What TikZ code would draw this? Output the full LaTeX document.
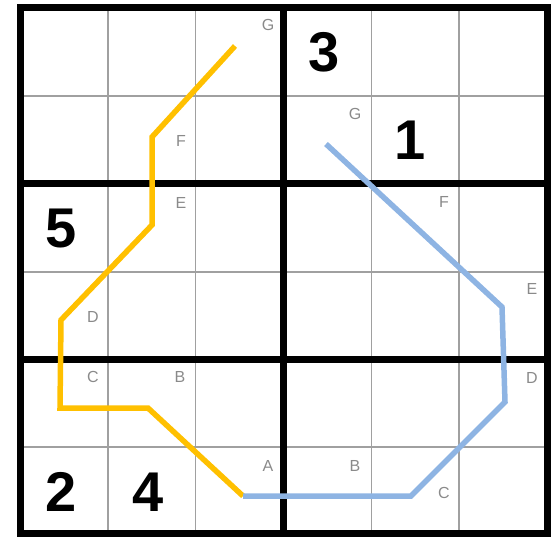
\documentclass[tikz,border=0pt]{standalone}
\usepackage{fontspec}
\setmainfont{Liberation Sans}
\definecolor{gridgray}{HTML}{A0A0A0}
\definecolor{pathyellow}{HTML}{FFC000}
\definecolor{pathblue}{HTML}{8EB4E3}
\definecolor{lblgray}{HTML}{8A8A8A}
\begin{document}
\begin{tikzpicture}[x=1pt,y=-1pt,
  thingrid/.style={draw=gridgray, line width=1.5pt},
  thickgrid/.style={draw=black, line width=7pt},
  route/.style={line width=5.5pt, line join=miter},
  lbl/.style={text=lblgray, font=\fontsize{16}{16}\selectfont, inner sep=0pt},
  digit/.style={text=black, font=\fontsize{56}{56}\selectfont\bfseries, inner sep=0pt}]
\useasboundingbox (0,0) rectangle (557,536);
% thin lines
\foreach \x in {107.8,195.7,371.3,459.2} \draw[thingrid] (\x,7) -- (\x,533);
\foreach \y in {96,447} \draw[thingrid] (20,\y) -- (547,\y);
\draw[thingrid] (20,272) -- (547,272);
% thick lines
\draw[thickgrid] (283.5,7) -- (283.5,533);
\draw[thickgrid] (20,183) -- (547,183);
\draw[thickgrid] (20,359) -- (547,359);
\draw[thickgrid, line join=miter] (20,7) rectangle (547,533);
% digits
\node[digit] (d3) at (324,52) {3};
\node[digit] (d1) at (410,140) {1};
\node[digit] (d5) at (61,229) {5};
\node[digit] (d2) at (61,492) {2};
\node[digit] (d4) at (148,492) {4};
% route coordinates
\coordinate (yG) at (235,46);
\coordinate (yF) at (152,137);
\coordinate (yE) at (152,225);
\coordinate (yD) at (61,320);
\coordinate (yC) at (60,408);
\coordinate (yB) at (148,408);
\coordinate (A) at (243,496);
\coordinate (bB) at (411,496);
\coordinate (bC) at (505,402);
\coordinate (bD) at (502,307);
\coordinate (bG) at (326,144);
\draw[route, draw=pathyellow] (yG) -- (yF) -- (yE) -- (yD) -- (yC) -- (yB) -- (A);
\draw[route, draw=pathblue] (A) -- (bB) -- (bC) -- (bD) -- (bG);
% labels
\node[lbl] (lyG) at (268,25) {G};
\node[lbl] (lyF) at (181,141) {F};
\node[lbl] (lyE) at (181,203) {E};
\node[lbl] (lyD) at (93,317) {D};
\node[lbl] (lyC) at (93,377) {C};
\node[lbl] (lyB) at (180,377) {B};
\node[lbl] (lA) at (268,466) {A};
\node[lbl] (lbB) at (355,466) {B};
\node[lbl] (lbC) at (444,493) {C};
\node[lbl] (lbD) at (532,378) {D};
\node[lbl] (lbE) at (532,289) {E};
\node[lbl] (lbF) at (444,202) {F};
\node[lbl] (lbG) at (355,114) {G};
\end{tikzpicture}
\end{document}
